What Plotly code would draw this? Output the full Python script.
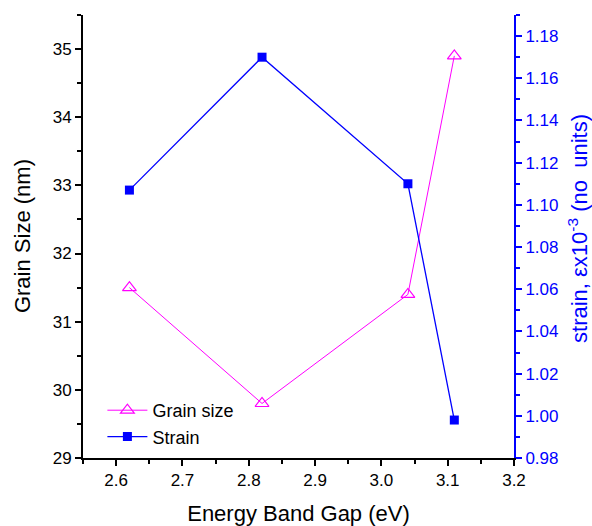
import plotly.graph_objects as go

energy = [2.62, 2.82, 3.04, 3.11]
grain_size = [31.5, 29.8, 31.4, 34.9]
strain = [1.107, 1.17, 1.110, 0.998]

FONT = "Liberation Sans, Arial, sans-serif"
BLUE = "#0000FF"
PINK = "#FF00FF"
TICK = 17
TITLE = 22

fig = go.Figure()
fig.add_trace(go.Scatter(
    x=energy, y=grain_size, name="Grain size", mode="lines+markers",
    line=dict(color=PINK, width=1),
    marker=dict(symbol="triangle-up-open", size=12, color=PINK, line=dict(width=1.2, color=PINK)),
    xaxis="x", yaxis="y"))
fig.add_trace(go.Scatter(
    x=energy, y=strain, name="Strain", mode="lines+markers",
    line=dict(color=BLUE, width=1.3),
    marker=dict(symbol="square", size=9, color=BLUE),
    xaxis="x", yaxis="y2"))

common = dict(showgrid=False, zeroline=False, showline=True, linewidth=2,
              ticklen=6, tickwidth=1.5, automargin=False)

fig.update_layout(
    width=592, height=526,
    margin=dict(l=83, r=78, t=15, b=68),
    paper_bgcolor="white", plot_bgcolor="white",
    font=dict(family=FONT, size=TICK, color="black"),
    showlegend=True,
    legend=dict(x=0.045, y=0.149, xanchor="left", yanchor="top",
                bgcolor="rgba(0,0,0,0)", font=dict(family=FONT, size=18),
                tracegroupgap=0, itemwidth=40),
    xaxis=dict(range=[2.55, 3.2], tickvals=[2.6, 2.7, 2.8, 2.9, 3.0, 3.1, 3.2],
               ticktext=["2.6", "2.7", "2.8", "2.9", "3.0", "3.1", "3.2"],
               ticks="outside", linecolor="black", tickcolor="black",
               tickfont=dict(family=FONT, size=TICK),
               minor=dict(dtick=0.05, tick0=2.55, ticks="outside", ticklen=4, tickcolor="black", tickwidth=1.5),
               title=dict(text="Energy Band Gap (eV)", font=dict(family=FONT, size=TITLE), standoff=18),
               **common),
    xaxis2=dict(overlaying="x", side="top", anchor="y", range=[2.55, 3.2],
                tickvals=[2.6, 2.7, 2.8, 2.9, 3.0, 3.1, 3.2], showticklabels=False,
                ticks="inside", linecolor="black", tickcolor="black",
                minor=dict(dtick=0.05, tick0=2.55, ticks="inside", ticklen=4, tickcolor="black", tickwidth=1.5),
                **common),
    yaxis=dict(range=[29, 35.5], tickvals=[29, 30, 31, 32, 33, 34, 35],
               ticks="outside", linecolor="black", tickcolor="black",
               tickfont=dict(family=FONT, size=TICK),
               minor=dict(dtick=0.5, tick0=29, ticks="outside", ticklen=4, tickcolor="black", tickwidth=1.5),
               **common),
    yaxis2=dict(range=[0.98, 1.19], overlaying="y", side="right", anchor="x",
                tickvals=[0.98, 1.00, 1.02, 1.04, 1.06, 1.08, 1.10, 1.12, 1.14, 1.16, 1.18],
                ticktext=["0.98", "1.00", "1.02", "1.04", "1.06", "1.08", "1.10", "1.12", "1.14", "1.16", "1.18"],
                ticks="outside", linecolor=BLUE, tickcolor=BLUE,
                minor=dict(dtick=0.01, tick0=0.98, ticks="outside", ticklen=4, tickcolor=BLUE, tickwidth=1.5),
                color=BLUE,
                tickfont=dict(family=FONT, size=TICK, color=BLUE),
                **common),
    annotations=[
        dict(text="Grain Size (nm)", xref="paper", yref="paper", x=-0.1415, y=0.501,
             xanchor="center", yanchor="middle", textangle=-90, showarrow=False,
             font=dict(family=FONT, size=TITLE, color="black")),
        dict(text="strain, εx10<sup>-3</sup> (no&nbsp;&nbsp;units)", xref="paper", yref="paper",
             x=1.1485, y=0.517, xanchor="center", yanchor="middle", textangle=-90, showarrow=False,
             font=dict(family=FONT, size=TITLE, color=BLUE)),
    ],
)

fig.write_html("out.html")
